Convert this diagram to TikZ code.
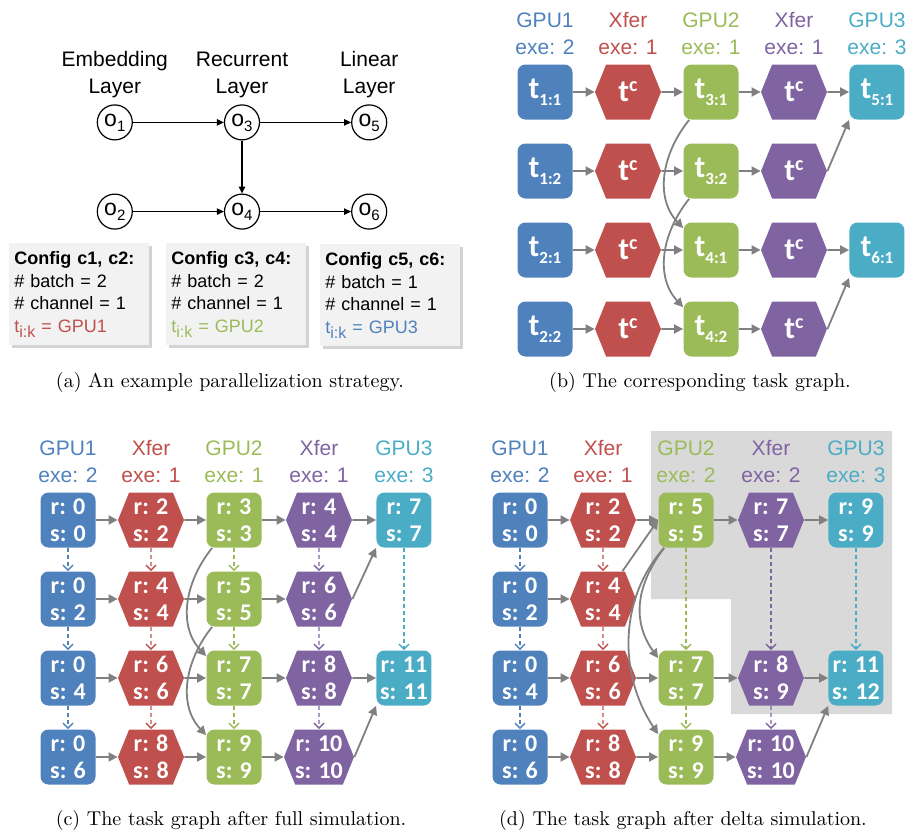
\documentclass[tikz,border=0pt]{standalone}
\usepackage{fontspec}
\setsansfont{Liberation Sans}
\newfontfamily\taskfont{Carlito}
\usepackage{tikz}
\usetikzlibrary{positioning,shapes.symbols,shadows,arrows.meta}

\definecolor{gpublue}{HTML}{4F81BD}
\definecolor{xferred}{HTML}{C0504D}
\definecolor{gpugreen}{HTML}{9BBB59}
\definecolor{xferpurple}{HTML}{8064A2}
\definecolor{gpucyan}{HTML}{4BACC6}
\definecolor{arrowgray}{HTML}{808080}
\definecolor{cfgfill}{HTML}{F2F2F2}
\definecolor{deltagray}{HTML}{D9D9D9}

\newcommand{\tsub}[1]{{\fontsize{15.5}{15.5}\selectfont t}\raisebox{-3.5pt}{\fontsize{8.5}{8.5}\selectfont #1}}
\newcommand{\tcomm}{{\fontsize{15.5}{15.5}\selectfont t}\raisebox{5pt}{\fontsize{10}{10}\selectfont c}}
\newcommand{\opname}[1]{o\raisebox{-2.5pt}{\fontsize{7.5}{7.5}\selectfont #1}}
\newcommand{\tik}{t\raisebox{-2.5pt}{\fontsize{8}{8}\selectfont i:k}}
\newcommand{\rs}[2]{r: #1\\s: #2}

\begin{document}
\begin{tikzpicture}[x=0.5pt,y=-0.5pt]
        \tikzstyle{op} = [draw, circle, line width=0.6pt, minimum size=17.5pt, inner sep=0pt, font=\sffamily\fontsize{11.5}{12}\selectfont]
        \tikzstyle{layername} = [align=center, inner sep=0pt, font=\sffamily\fontsize{10.5}{13.5}\selectfont]
        \tikzstyle{cfgbox} = [anchor=north west, fill=cfgfill, drop shadow={shadow xshift=1.2pt, shadow yshift=-1.2pt, opacity=0.35}, align=left, text width=65pt, inner xsep=2.5pt, minimum height=51pt, font=\sffamily\fontsize{9}{11.35}\selectfont]
        \tikzstyle{gpubox} = [rectangle, rounded corners=4pt, minimum size=27.5pt, inner sep=0pt, text=white, align=center, font=\taskfont\bfseries\fontsize{12}{13.5}\selectfont]
        \tikzstyle{xferhex} = [signal, signal to=east and west, signal pointer angle=136, minimum width=33pt, minimum height=27.5pt, inner sep=0pt, text=white, align=center, font=\taskfont\bfseries\fontsize{12}{13.5}\selectfont]
        \tikzstyle{colhead} = [align=center, inner sep=0pt, font=\sffamily\fontsize{10.5}{13.5}\selectfont]
        \tikzstyle{opflow} = [draw, line width=0.6pt, -{Triangle[length=3.5pt,width=3.2pt]}]
        \tikzstyle{dep} = [draw=arrowgray, line width=0.9pt, -{Triangle[length=4.5pt,width=4.5pt]}]
        \tikzstyle{queued} = [line width=0.7pt, dash pattern=on 2pt off 1.5pt, -{Straight Barb[length=2.5pt,width=5pt]}]
        \tikzstyle{subcap} = [font=\fontsize{10}{12}\selectfont]

        \useasboundingbox (0,0) rectangle (912,835);

        % delta region
        \fill[deltagray] (651,431) -- (892,431) -- (892,714) -- (731,714) -- (731,599) -- (651,599) -- cycle;

        % (a) operator graph
        \matrix (ops) [column sep=45.5pt, row sep=26.5pt] at (242,167) {
            \node (o1) [op] {\opname{1}}; &
            \node (o3) [op] {\opname{3}}; &
            \node (o5) [op] {\opname{5}}; \\
            \node (o2) [op] {\opname{2}}; &
            \node (o4) [op] {\opname{4}}; &
            \node (o6) [op] {\opname{6}}; \\
        };
        \node (embed) [layername, above=3pt of o1] {Embedding\\Layer};
        \node (recur) [layername, above=3pt of o3] {Recurrent\\Layer};
        \node (linear) [layername, above=3pt of o5] {Linear\\Layer};
        \draw[opflow] (o1) -- (o3);
        \draw[opflow] (o3) -- (o5);
        \draw[opflow] (o3) -- (o4);
        \draw[opflow] (o2) -- (o4);
        \draw[opflow] (o4) -- (o6);

        \node (cfg1) [cfgbox] at (9,243) {\textbf{Config c1, c2:}\\\# batch = 2\\\# channel = 1\\\textcolor{xferred}{\tik{} = GPU1}};
        \node (cfg2) [cfgbox] at (166,243) {\textbf{Config c3, c4:}\\\# batch = 2\\\# channel = 1\\\textcolor{gpugreen}{\tik{} = GPU2}};
        \node (cfg3) [cfgbox] at (320,244) {\textbf{Config c5, c6:}\\\# batch = 1\\\# channel = 1\\\textcolor{gpublue}{\tik{} = GPU3}};
        \node (capa) [subcap] at (230,382) {(a) An example parallelization strategy.};

        % (b) task graph
        \matrix (tgb) [column sep=11.25pt, row sep=12pt] at (711,210.5) {
            \node (b11) [gpubox, fill=gpublue] {\tsub{1:1}}; &
            \node (b12) [xferhex, fill=xferred] {\tcomm}; &
            \node (b13) [gpubox, fill=gpugreen] {\tsub{3:1}}; &
            \node (b14) [xferhex, fill=xferpurple] {\tcomm}; &
            \node (b15) [gpubox, fill=gpucyan] {\tsub{5:1}}; \\
            \node (b21) [gpubox, fill=gpublue] {\tsub{1:2}}; &
            \node (b22) [xferhex, fill=xferred] {\tcomm}; &
            \node (b23) [gpubox, fill=gpugreen] {\tsub{3:2}}; &
            \node (b24) [xferhex, fill=xferpurple] {\tcomm}; \\
            \node (b31) [gpubox, fill=gpublue] {\tsub{2:1}}; &
            \node (b32) [xferhex, fill=xferred] {\tcomm}; &
            \node (b33) [gpubox, fill=gpugreen] {\tsub{4:1}}; &
            \node (b34) [xferhex, fill=xferpurple] {\tcomm}; &
            \node (b35) [gpubox, fill=gpucyan] {\tsub{6:1}}; \\
            \node (b41) [gpubox, fill=gpublue] {\tsub{2:2}}; &
            \node (b42) [xferhex, fill=xferred] {\tcomm}; &
            \node (b43) [gpubox, fill=gpugreen] {\tsub{4:2}}; &
            \node (b44) [xferhex, fill=xferpurple] {\tcomm}; \\
        };
        \node (bh1) [colhead, text=gpublue, above=4.5pt of b11] {GPU1\\exe: 2};
        \node (bh2) [colhead, text=xferred, above=4.5pt of b12] {Xfer\\exe: 1};
        \node (bh3) [colhead, text=gpugreen, above=4.5pt of b13] {GPU2\\exe: 1};
        \node (bh4) [colhead, text=xferpurple, above=4.5pt of b14] {Xfer\\exe: 1};
        \node (bh5) [colhead, text=gpucyan, above=4.5pt of b15] {GPU3\\exe: 3};
        \draw[dep] (b11) -- (b12);
        \draw[dep] (b12) -- (b13);
        \draw[dep] (b13) -- (b14);
        \draw[dep] (b14) -- (b15);
        \draw[dep] (b21) -- (b22);
        \draw[dep] (b22) -- (b23);
        \draw[dep] (b23) -- (b24);
        \draw[dep] (b24.east) -- (b15.south west);
        \draw[dep] (b31) -- (b32);
        \draw[dep] (b32) -- (b33);
        \draw[dep] (b33) -- (b34);
        \draw[dep] (b34) -- (b35);
        \draw[dep] (b41) -- (b42);
        \draw[dep] (b42) -- (b43);
        \draw[dep] (b43) -- (b44);
        \draw[dep] (b44.east) -- (b35.south west);
        \draw[dep] ([shift={(6,0)}]b13.south west) .. controls +(-28,35) and +(-28,-30) .. ([shift={(0,6)}]b33.north west);
        \draw[dep] ([shift={(6,0)}]b23.south west) .. controls +(-28,35) and +(-28,-30) .. ([shift={(0,6)}]b43.north west);
        \node (capb) [subcap] at (700,382) {(b) The corresponding task graph.};

        % (c) full simulation
        \matrix (tgc) [column sep=11.25pt, row sep=12pt] at (236,638.5) {
            \node (c11) [gpubox, fill=gpublue] {\rs{0}{0}}; &
            \node (c12) [xferhex, fill=xferred] {\rs{2}{2}}; &
            \node (c13) [gpubox, fill=gpugreen] {\rs{3}{3}}; &
            \node (c14) [xferhex, fill=xferpurple] {\rs{4}{4}}; &
            \node (c15) [gpubox, fill=gpucyan] {\rs{7}{7}}; \\
            \node (c21) [gpubox, fill=gpublue] {\rs{0}{2}}; &
            \node (c22) [xferhex, fill=xferred] {\rs{4}{4}}; &
            \node (c23) [gpubox, fill=gpugreen] {\rs{5}{5}}; &
            \node (c24) [xferhex, fill=xferpurple] {\rs{6}{6}}; \\
            \node (c31) [gpubox, fill=gpublue] {\rs{0}{4}}; &
            \node (c32) [xferhex, fill=xferred] {\rs{6}{6}}; &
            \node (c33) [gpubox, fill=gpugreen] {\rs{7}{7}}; &
            \node (c34) [xferhex, fill=xferpurple] {\rs{8}{8}}; &
            \node (c35) [gpubox, fill=gpucyan] {\rs{11}{11}}; \\
            \node (c41) [gpubox, fill=gpublue] {\rs{0}{6}}; &
            \node (c42) [xferhex, fill=xferred] {\rs{8}{8}}; &
            \node (c43) [gpubox, fill=gpugreen] {\rs{9}{9}}; &
            \node (c44) [xferhex, fill=xferpurple] {\rs{10}{10}}; \\
        };
        \node (ch1) [colhead, text=gpublue, above=4.5pt of c11] {GPU1\\exe: 2};
        \node (ch2) [colhead, text=xferred, above=4.5pt of c12] {Xfer\\exe: 1};
        \node (ch3) [colhead, text=gpugreen, above=4.5pt of c13] {GPU2\\exe: 1};
        \node (ch4) [colhead, text=xferpurple, above=4.5pt of c14] {Xfer\\exe: 1};
        \node (ch5) [colhead, text=gpucyan, above=4.5pt of c15] {GPU3\\exe: 3};
        \draw[dep] (c11) -- (c12);
        \draw[dep] (c12) -- (c13);
        \draw[dep] (c13) -- (c14);
        \draw[dep] (c14) -- (c15);
        \draw[dep] (c21) -- (c22);
        \draw[dep] (c22) -- (c23);
        \draw[dep] (c23) -- (c24);
        \draw[dep] (c24.east) -- (c15.south west);
        \draw[dep] (c31) -- (c32);
        \draw[dep] (c32) -- (c33);
        \draw[dep] (c33) -- (c34);
        \draw[dep] (c34) -- (c35);
        \draw[dep] (c41) -- (c42);
        \draw[dep] (c42) -- (c43);
        \draw[dep] (c43) -- (c44);
        \draw[dep] (c44.east) -- (c35.south west);
        \draw[dep] ([shift={(6,0)}]c13.south west) .. controls +(-28,35) and +(-28,-30) .. ([shift={(0,6)}]c33.north west);
        \draw[dep] ([shift={(6,0)}]c23.south west) .. controls +(-28,35) and +(-28,-30) .. ([shift={(0,6)}]c43.north west);
        \draw[queued, gpublue] (c11) -- (c21);
        \draw[queued, gpublue] (c21) -- (c31);
        \draw[queued, gpublue] (c31) -- (c41);
        \draw[queued, xferred] (c12) -- (c22);
        \draw[queued, xferred] (c22) -- (c32);
        \draw[queued, xferred] (c32) -- (c42);
        \draw[queued, gpugreen] (c13) -- (c23);
        \draw[queued, gpugreen] (c23) -- (c33);
        \draw[queued, gpugreen] (c33) -- (c43);
        \draw[queued, xferpurple] (c14) -- (c24);
        \draw[queued, xferpurple] (c24) -- (c34);
        \draw[queued, xferpurple] (c34) -- (c44);
        \draw[queued, gpucyan] (c15) -- (c35);
        \node (capc) [subcap] at (231,820) {(c) The task graph after full simulation.};

        % (d) delta simulation
        \matrix (tgd) [column sep=11.25pt, row sep=12pt] at (688,638.5) {
            \node (d11) [gpubox, fill=gpublue] {\rs{0}{0}}; &
            \node (d12) [xferhex, fill=xferred] {\rs{2}{2}}; &
            \node (d13) [gpubox, fill=gpugreen] {\rs{5}{5}}; &
            \node (d14) [xferhex, fill=xferpurple] {\rs{7}{7}}; &
            \node (d15) [gpubox, fill=gpucyan] {\rs{9}{9}}; \\
            \node (d21) [gpubox, fill=gpublue] {\rs{0}{2}}; &
            \node (d22) [xferhex, fill=xferred] {\rs{4}{4}}; \\
            \node (d31) [gpubox, fill=gpublue] {\rs{0}{4}}; &
            \node (d32) [xferhex, fill=xferred] {\rs{6}{6}}; &
            \node (d33) [gpubox, fill=gpugreen] {\rs{7}{7}}; &
            \node (d34) [xferhex, fill=xferpurple] {\rs{8}{9}}; &
            \node (d35) [gpubox, fill=gpucyan] {\rs{11}{12}}; \\
            \node (d41) [gpubox, fill=gpublue] {\rs{0}{6}}; &
            \node (d42) [xferhex, fill=xferred] {\rs{8}{8}}; &
            \node (d43) [gpubox, fill=gpugreen] {\rs{9}{9}}; &
            \node (d44) [xferhex, fill=xferpurple] {\rs{10}{10}}; \\
        };
        \node (dh1) [colhead, text=gpublue, above=4.5pt of d11] {GPU1\\exe: 2};
        \node (dh2) [colhead, text=xferred, above=4.5pt of d12] {Xfer\\exe: 1};
        \node (dh3) [colhead, text=gpugreen, above=4.5pt of d13] {GPU2\\exe: 2};
        \node (dh4) [colhead, text=xferpurple, above=4.5pt of d14] {Xfer\\exe: 2};
        \node (dh5) [colhead, text=gpucyan, above=4.5pt of d15] {GPU3\\exe: 3};
        \draw[dep] (d11) -- (d12);
        \draw[dep] (d12) -- (d13);
        \draw[dep] (d13) -- (d14);
        \draw[dep] (d14) -- (d15);
        \draw[dep] (d21) -- (d22);
        \draw[dep] (d22) -- (d13.west);
        \draw[dep] (d31) -- (d32);
        \draw[dep] (d32) -- (d33);
        \draw[dep] (d33) -- (d34);
        \draw[dep] (d34) -- (d35);
        \draw[dep] (d41) -- (d42);
        \draw[dep] (d42) -- (d43);
        \draw[dep] (d43) -- (d44);
        \draw[dep] (d44.east) -- (d35.south west);
        \draw[dep] ([shift={(6,0)}]d13.south west) .. controls +(-30,40) and +(-25,-35) .. ([shift={(0,8)}]d33.north west);
        \draw[dep] ([shift={(6,0)}]d13.south west) .. controls +(-45,50) and +(-40,-60) .. ([shift={(0,5)}]d43.north west);
        \draw[queued, gpublue] (d11) -- (d21);
        \draw[queued, gpublue] (d21) -- (d31);
        \draw[queued, gpublue] (d31) -- (d41);
        \draw[queued, xferred] (d12) -- (d22);
        \draw[queued, xferred] (d22) -- (d32);
        \draw[queued, xferred] (d32) -- (d42);
        \draw[queued, gpugreen] (d13) -- (d33);
        \draw[queued, gpugreen] (d33) -- (d43);
        \draw[queued, xferpurple] (d14) -- (d34);
        \draw[queued, xferpurple] (d34) -- (d44);
        \draw[queued, gpucyan] (d15) -- (d35);
        \node (capd) [subcap] at (683,820) {(d) The task graph after delta simulation.};
    \end{tikzpicture}
\end{document}
